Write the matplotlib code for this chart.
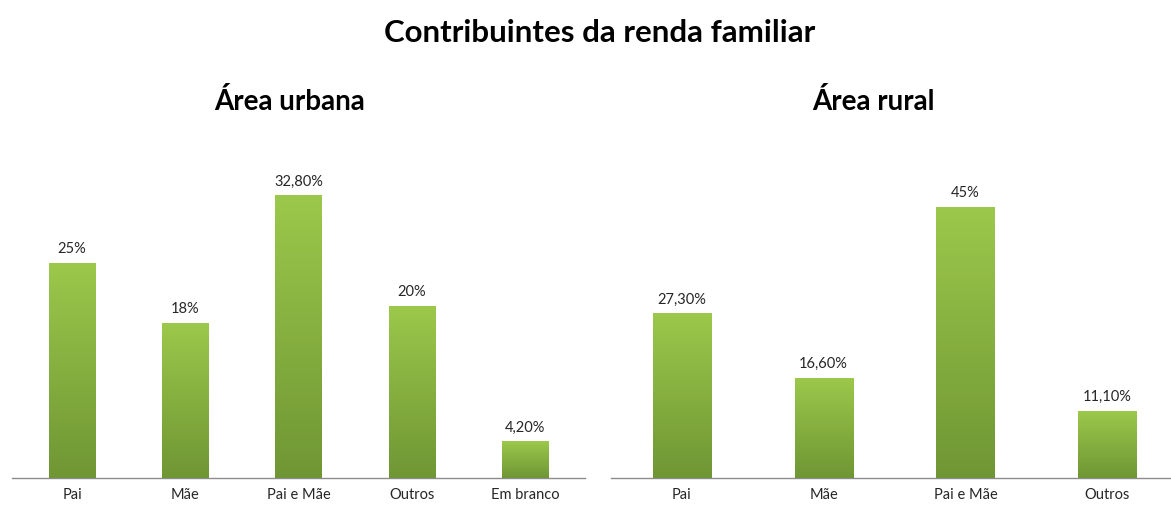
import matplotlib
matplotlib.use("Agg")
import matplotlib.pyplot as plt
import numpy as np
from matplotlib.colors import LinearSegmentedColormap

plt.rcParams['font.family'] = ['Lato', 'DejaVu Sans']

title = "Contribuintes da renda familiar"
urban_title = "Área urbana"
rural_title = "Área rural"
urban_cats = ["Pai", "Mãe", "Pai e Mãe", "Outros", "Em branco"]
urban_vals = [25, 18, 32.8, 20, 4.2]
urban_labels = ["25%", "18%", "32,80%", "20%", "4,20%"]
rural_cats = ["Pai", "Mãe", "Pai e Mãe", "Outros"]
rural_vals = [27.3, 16.6, 45, 11.1]
rural_labels = ["27,30%", "16,60%", "45%", "11,10%"]

W, H = 1171, 507
fig = plt.figure(figsize=(W / 100, H / 100), dpi=100)
cmap = LinearSegmentedColormap.from_list("g", ["#6f9634", "#9cc84b"])
grad = np.linspace(0, 1, 256).reshape(-1, 1)


def panel(rect, cats, vals, labels, ymax, xlim):
    ax = fig.add_axes(rect)
    x = np.arange(len(cats))
    bars = ax.bar(x, vals, width=0.41, color="#86b040", zorder=2)
    for b, lab in zip(bars, labels):
        x0, w, h = b.get_x(), b.get_width(), b.get_height()
        ax.imshow(grad, extent=(x0, x0 + w, 0, h), origin="lower", cmap=cmap,
                  aspect="auto", zorder=3)
        ax.annotate(lab, (x0 + w / 2, h), xytext=(0, 5), textcoords="offset points",
                    ha="center", va="bottom", fontsize=10.5, color="#262626")
    ax.set_xlim(*xlim)
    ax.set_ylim(0, ymax)
    ax.set_xticks(x)
    ax.set_xticklabels(cats, fontsize=10.5, color="#262626")
    ax.tick_params(axis="x", length=0, pad=7)
    ax.set_yticks([])
    for s in ["top", "right", "left"]:
        ax.spines[s].set_visible(False)
    ax.spines["bottom"].set_color("#8c8c8c")
    ax.spines["bottom"].set_linewidth(1.0)
    return ax


panel([12 / W, 1 - 478 / H, (585 - 12) / W, 301 / H], urban_cats, urban_vals,
      urban_labels, 35, (-0.53, 4.53))
panel([611 / W, 1 - 478 / H, (1171 - 611) / W, 301 / H], rural_cats, rural_vals,
      rural_labels, 50, (-0.5, 3.45))

fig.text(600 / W, 1 - 33 / H, title, ha="center", va="center", fontsize=22.5,
         fontweight="bold", color="#000000")
fig.text(290 / W, 1 - 102 / H, urban_title, ha="center", va="center", fontsize=20,
         fontweight="bold", color="#000000")
fig.text(873 / W, 1 - 102 / H, rural_title, ha="center", va="center", fontsize=20,
         fontweight="bold", color="#000000")

fig.savefig("out.png", dpi=100)
